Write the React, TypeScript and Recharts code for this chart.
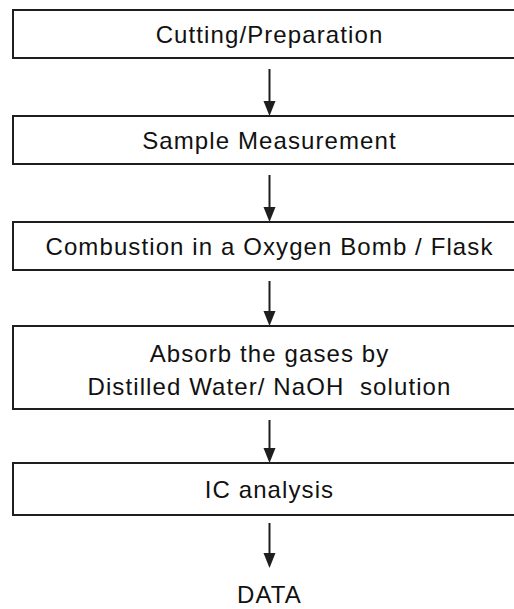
import React from "react";
import { BarChart, Bar, XAxis, YAxis } from "recharts";

// flow steps, top to bottom (one entry per box, one string per text line)
const stepLabels: string[][] = [
  ["Cutting/Preparation"],
  ["Sample Measurement"],
  ["Combustion in a Oxygen Bomb / Flask"],
  ["Absorb the gases by", "Distilled Water/ NaOH  solution"],
  ["IC analysis"],
];
// vertical extent of each box and of each connector between boxes (chart units)
const stepSpans = [48, 48, 48, 83, 52];
const linkSpans = [58, 58, 56, 54];
const leadSpan = 10;
const endSpan = 94;
const endLabel = "DATA";

const INK = "#1e1e1e";
const FONT = '"Liberation Sans", Arial, sans-serif';
const FS = 24;

type Seg = { key: string; kind: "lead" | "box" | "link" | "end"; lines?: string[] };

const segs: Seg[] = [{ key: "lead", kind: "lead" }];
const row: Record<string, any> = { name: "flow", lead: leadSpan };
stepLabels.forEach((lines, i) => {
  segs.push({ key: `step${i}`, kind: "box", lines });
  row[`step${i}`] = stepSpans[i];
  if (i < linkSpans.length) {
    segs.push({ key: `link${i}`, kind: "link" });
    row[`link${i}`] = linkSpans[i];
  }
});
segs.push({ key: "end", kind: "end", lines: [endLabel] });
row.end = endSpan;
const data = [row];
const total = leadSpan + endSpan + stepSpans.reduce((a, b) => a + b, 0) + linkSpans.reduce((a, b) => a + b, 0);

const Arrow = ({ cx, y0, y1 }: { cx: number; y0: number; y1: number }) => (
  <g>
    <line x1={cx} y1={y0} x2={cx} y2={y1 - 12} stroke={INK} strokeWidth={2} />
    <polygon points={`${cx - 6},${y1 - 15} ${cx + 6},${y1 - 15} ${cx},${y1}`} fill={INK} />
  </g>
);

const textStyle: React.CSSProperties = { whiteSpace: "pre", letterSpacing: 1.1 };

const makeShape = (seg: Seg) => (props: any) => {
  const { x, y, width, height } = props;
  const top = height < 0 ? y + height : y;
  const h = Math.abs(height);
  const cx = x + width / 2;
  if (seg.kind === "box") {
    const lines = seg.lines || [];
    const mid = top + h / 2 + 8.5 + (lines.length > 1 ? 2.5 : 0);
    return (
      <g>
        <rect x={x} y={top} width={width} height={h} fill="#fff" stroke={INK} strokeWidth={2} />
        {lines.map((t, i) => (
          <text
            key={i}
            x={cx}
            y={mid + (i - (lines.length - 1) / 2) * 33}
            textAnchor="middle"
            fontFamily={FONT}
            fontSize={FS}
            fill="#111"
            style={textStyle}
          >
            {t}
          </text>
        ))}
      </g>
    );
  }
  if (seg.kind === "link") {
    return <Arrow cx={cx} y0={top + 11} y1={top + h} />;
  }
  if (seg.kind === "end") {
    return (
      <g>
        <Arrow cx={cx} y0={top + 8} y1={top + 53} />
        <text x={cx} y={top + 88} textAnchor="middle" fontFamily={FONT} fontSize={FS} fill="#111" style={textStyle}>
          {seg.lines?.[0]}
        </text>
      </g>
    );
  }
  return <g />;
};

export default function App() {
  return (
    <div
      style={{
        position: "fixed",
        left: 0,
        top: 0,
        width: 514,
        height: 609,
        overflow: "hidden",
        background: "#fff",
      }}
    >
      <BarChart
        width={526}
        height={609}
        data={data}
        margin={{ top: 0, right: 0, bottom: 0, left: 13 }}
        barCategoryGap={0}
        barGap={0}
      >
        <XAxis dataKey="name" hide />
        <YAxis type="number" domain={[0, total]} reversed hide />
        {segs.map((s) => (
          <Bar
            key={s.key}
            dataKey={s.key}
            stackId="flow"
            isAnimationActive={false}
            shape={makeShape(s)}
          />
        ))}
      </BarChart>
    </div>
  );
}
